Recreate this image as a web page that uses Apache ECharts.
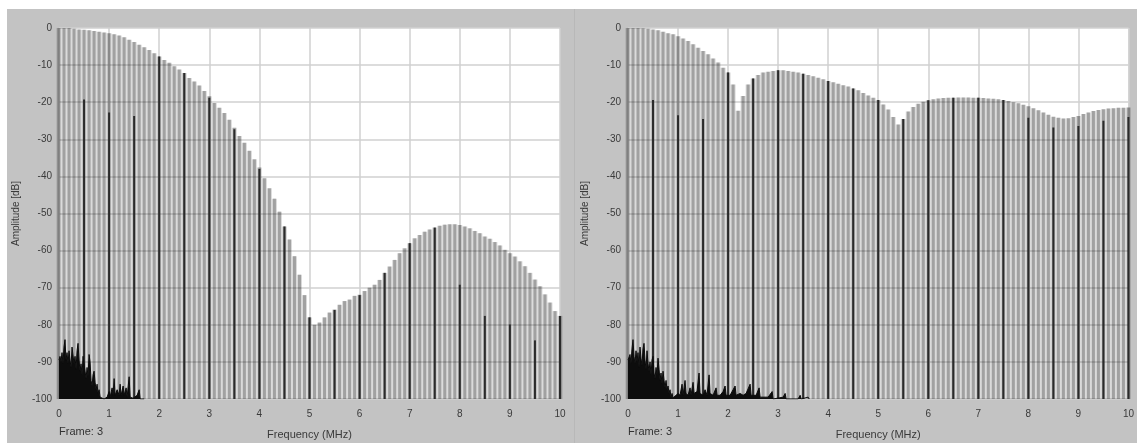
<!DOCTYPE html>
<html>
<head>
<meta charset="utf-8">
<script src="https://cdn.jsdelivr.net/npm/echarts@6/dist/echarts.min.js"></script>
<style>
html,body{margin:0;padding:0;background:#fff;}
#wrap{position:absolute;left:0;top:0;width:1137px;height:445px;background:#fff;}
#panel{position:absolute;left:7px;top:9px;width:1130px;height:434px;background:#c3c3c3;}
#sep{position:absolute;left:574px;top:9px;width:1px;height:434px;background:#b8b8b8;}
#chart{position:absolute;left:0;top:0;width:1137px;height:445px;}
</style>
</head>
<body>
<div id="wrap"><div id="panel"></div><div id="sep"></div><div id="chart"></div></div>
<script>
// Gray spectral lines, 0.0 .. 10.0 MHz every 0.1 MHz (dB)
var envelopeLeft = [0,0,0,-0.2,-0.4,-0.5,-0.6,-0.8,-1.0,-1.2,
  -1.4,-1.7,-2.0,-2.5,-3.2,-3.8,-4.5,-5.2,-5.9,-6.8,
  -7.7,-8.6,-9.4,-10.3,-11.2,-12.1,-13.5,-14.4,-15.5,-17,
  -18.4,-20.2,-21.5,-22.9,-24.7,-26.9,-29.1,-30.9,-33.1,-35.4,
  -37.6,-40.5,-43.2,-46,-49.5,-53.5,-57,-61.5,-66.5,-72,
  -78,-80,-79.4,-78,-76.7,-75.9,-74.6,-73.6,-73.2,-72.2,
  -71.9,-70.9,-70,-69.2,-67.9,-66,-64.3,-62.5,-60.7,-59.4,
  -58,-56.7,-55.8,-54.9,-54.3,-53.8,-53.3,-53,-52.9,-52.9,
  -53.1,-53.5,-54,-54.7,-55.3,-56.2,-56.8,-57.7,-58.6,-59.8,
  -60.7,-61.6,-62.9,-64.2,-66,-67.8,-69.6,-71.8,-74,-76.3,
  -77.6];
var envelopeRight = [0,0,0,-0.1,-0.2,-0.4,-0.6,-1,-1.4,-1.7,
  -2.2,-2.8,-3.5,-4.4,-5.3,-6.2,-7.1,-8.2,-9.3,-10.7,
  -12,-15.2,-22.3,-18.3,-15.2,-13.6,-12.7,-12,-11.8,-11.6,
  -11.4,-11.4,-11.6,-11.8,-12,-12.3,-12.7,-13,-13.4,-13.8,
  -14.3,-14.6,-15,-15.4,-15.8,-16.3,-16.8,-17.5,-18.2,-18.8,
  -19.4,-20.6,-22,-24,-26,-24.5,-22.5,-21.3,-20.4,-19.9,
  -19.5,-19.2,-19,-18.9,-18.8,-18.8,-18.7,-18.7,-18.7,-18.8,
  -18.8,-18.9,-19,-19.1,-19.2,-19.4,-19.7,-20,-20.3,-20.7,
  -21.1,-21.6,-22.2,-22.8,-23.4,-23.9,-24.2,-24.4,-24.3,-24,
  -23.7,-23.2,-22.8,-22.4,-22.1,-21.9,-21.7,-21.6,-21.5,-21.5,
  -21.4];
// Dark lines every 0.5 MHz from 0.5 to 10 MHz (dB)
var darkFreqs = [0.5,1,1.5,2,2.5,3,3.5,4,4.5,5,5.5,6,6.5,7,7.5,8,8.5,9,9.5,10];
var darkLeft  = [-19.3,-22.8,-23.7,-7.7,-12.1,-18.8,-27.3,-38,-53.5,-78,-76,-72,-66,-58,-53.8,-69.2,-77.6,-79.9,-84.2,-77.6];
var darkRight = [-19.4,-23.5,-24.5,-12,-13.6,-11.4,-12.3,-14.3,-16.3,-19.4,-24.5,-19.5,-18.8,-18.8,-19.4,-24.2,-26.8,-26.4,-25,-24];
// Noise floor [MHz, dB]
var noiseLeft = [[0,-89.5],[0.02,-88.5],[0.04,-90],[0.06,-87.5],[0.08,-90.5],[0.10,-86],[0.12,-84],[0.14,-89.5],[0.16,-87.5],[0.18,-90.5],
  [0.20,-87],[0.22,-89.5],[0.24,-91.5],[0.26,-86],[0.28,-85.5],[0.30,-90.5],[0.32,-88.5],[0.34,-92],[0.36,-87],[0.38,-85],
  [0.40,-89.5],[0.42,-92.5],[0.44,-90.5],[0.46,-93.5],[0.48,-88.5],[0.50,-88],[0.52,-92.5],[0.54,-94.5],[0.56,-91.5],[0.58,-94],
  [0.60,-88],[0.62,-90],[0.64,-95],[0.66,-96.5],[0.68,-93.5],[0.70,-92.5],[0.72,-95.5],[0.74,-97.5],[0.76,-96],[0.78,-98.5],
  [0.80,-97.5],[0.82,-99.5],[0.84,-100],[0.90,-100],[0.96,-99.5],[1.00,-98],[1.02,-99.5],[1.06,-97],[1.08,-99],[1.10,-94.5],
  [1.12,-99],[1.16,-97.5],[1.20,-99],[1.22,-96],[1.24,-99],[1.28,-96.5],[1.30,-99],[1.34,-97],[1.36,-99.5],[1.40,-94],
  [1.42,-99.5],[1.48,-99.8],[1.56,-99],[1.60,-97.5],[1.62,-100],[1.70,-100]];
var noiseRight = [[0,-89.5],[0.02,-89],[0.04,-88],[0.06,-90.5],[0.08,-86.5],[0.10,-84],[0.12,-88.5],[0.14,-90.5],[0.16,-87],[0.18,-90],
  [0.20,-87.5],[0.22,-91.5],[0.24,-86],[0.26,-89],[0.28,-91],[0.30,-86.5],[0.32,-85],[0.34,-89.5],[0.36,-92],[0.38,-87],
  [0.40,-90.5],[0.42,-92.5],[0.44,-90],[0.46,-93.5],[0.48,-89.5],[0.50,-88.5],[0.52,-93],[0.54,-94.5],[0.56,-91.5],[0.58,-93.5],
  [0.60,-89],[0.62,-92],[0.64,-95],[0.66,-93],[0.68,-96],[0.70,-92.5],[0.72,-95],[0.74,-97],[0.76,-95],[0.78,-97.5],
  [0.80,-96.5],[0.82,-98.5],[0.84,-97.5],[0.86,-99.5],[0.88,-98.5],[0.90,-99.7],[0.92,-100],[0.96,-99],[1.00,-98.5],[1.04,-99],
  [1.08,-96],[1.10,-99],[1.14,-95],[1.16,-98.5],[1.20,-99],[1.24,-97],[1.26,-99],[1.30,-95.5],[1.32,-98.5],[1.38,-98],
  [1.42,-93],[1.44,-98.5],[1.50,-99],[1.54,-97.5],[1.58,-99],[1.62,-93.5],[1.64,-98.5],[1.70,-99],[1.76,-97],[1.78,-99],
  [1.84,-99],[1.90,-98],[1.94,-96.5],[1.96,-99],[2.04,-99],[2.10,-97.5],[2.14,-96.5],[2.16,-99],[2.24,-98.5],[2.30,-99],
  [2.36,-98.5],[2.44,-96],[2.46,-99],[2.56,-99],[2.62,-97],[2.64,-99.5],[2.80,-99.5],[2.88,-98],[2.90,-100],[3.10,-99.5],
  [3.14,-98.5],[3.16,-100],[3.40,-100],[3.44,-99],[3.46,-100],[3.60,-99.5],[3.62,-100]];
var yMin = -100, yMax = 0, xMin = 0, xMax = 10;

function pairs(freqs, vals){ return vals.map(function(v,i){ return [freqs[i], v]; }); }
var lineFreqs = envelopeLeft.map(function(_, i){ return i / 10; });

function barRenderer(w, color){
  return function(params, api){
    var x = api.value(0), y = api.value(1);
    var top = api.coord([x, y]);
    var base = api.coord([x, yMin]);
    return {type:'rect', shape:{x: top[0]-w/2, y: top[1], width: w, height: base[1]-top[1]}, style:{fill: color}};
  };
}

var FONT = 'Liberation Sans';
var txt = {color:'#3a3a3a', fontFamily: FONT, fontSize: 10};

function xAxisDef(idx){
  return {gridIndex: idx, type:'value', min:xMin, max:xMax, interval:1,
    name:'Frequency (MHz)', nameLocation:'middle', nameGap:30,
    nameTextStyle: {color:'#3a3a3a', fontFamily: FONT, fontSize: 11},
    axisLine:{show:false}, axisTick:{show:false},
    axisLabel: Object.assign({margin:10}, txt),
    splitLine:{show:true, lineStyle:{color:'#d0d0d0', width:1.5}}};
}
function yAxisDef(idx){
  return {gridIndex: idx, type:'value', min:yMin, max:yMax, interval:10,
    name:'Amplitude [dB]', nameLocation:'middle', nameGap:38, nameRotate:90,
    nameTextStyle: {color:'#3a3a3a', fontFamily: FONT, fontSize: 10},
    axisLine:{show:false}, axisTick:{show:false},
    axisLabel: Object.assign({margin:7}, txt),
    splitLine:{show:true, lineStyle:{color:'#d0d0d0', width:1.5}}};
}

function panelSeries(idx, env, dark, noise, pitch){
  return [
    {type:'custom', xAxisIndex:idx, yAxisIndex:idx, renderItem: barRenderer(pitch, 'rgba(0,0,0,0.15)'),
     encode:{x:0, y:1}, data: pairs(lineFreqs, env), z:2, silent:true},
    {type:'custom', xAxisIndex:idx, yAxisIndex:idx, renderItem: barRenderer(3, 'rgba(0,0,0,0.26)'),
     encode:{x:0, y:1}, data: pairs(lineFreqs, env), z:2, silent:true},
    {type:'custom', xAxisIndex:idx, yAxisIndex:idx, renderItem: barRenderer(2, '#2b2b2b'),
     encode:{x:0, y:1}, data: pairs(darkFreqs, dark), z:3, silent:true},
    {type:'line', xAxisIndex:idx, yAxisIndex:idx, data: noise, symbol:'none', z:4, silent:true,
     lineStyle:{color:'#0d0d0d', width:1}, areaStyle:{color:'#0d0d0d', opacity:1, origin:'start'}}
  ];
}

var chart = echarts.init(document.getElementById('chart'), null, {renderer:'canvas'});
chart.setOption({
  backgroundColor:'transparent',
  animation:false,
  title:[
    {text:'Frame: 3', left:59, top:426, textStyle:{color:'#333', fontFamily:FONT, fontSize:11, fontWeight:'normal'}, padding:0},
    {text:'Frame: 3', left:628, top:426, textStyle:{color:'#333', fontFamily:FONT, fontSize:11, fontWeight:'normal'}, padding:0}
  ],
  grid:[
    {left:59, top:28, width:501, height:374, show:true, backgroundColor:'#fff', borderWidth:0},
    {left:628, top:28, width:505, height:374, show:true, backgroundColor:'#fff', borderWidth:0}
  ],
  xAxis:[xAxisDef(0), xAxisDef(1)],
  yAxis:[yAxisDef(0), yAxisDef(1)],
  series: panelSeries(0, envelopeLeft, darkLeft, noiseLeft, 5).concat(panelSeries(1, envelopeRight, darkRight, noiseRight, 5))
});
</script>
</body>
</html>
